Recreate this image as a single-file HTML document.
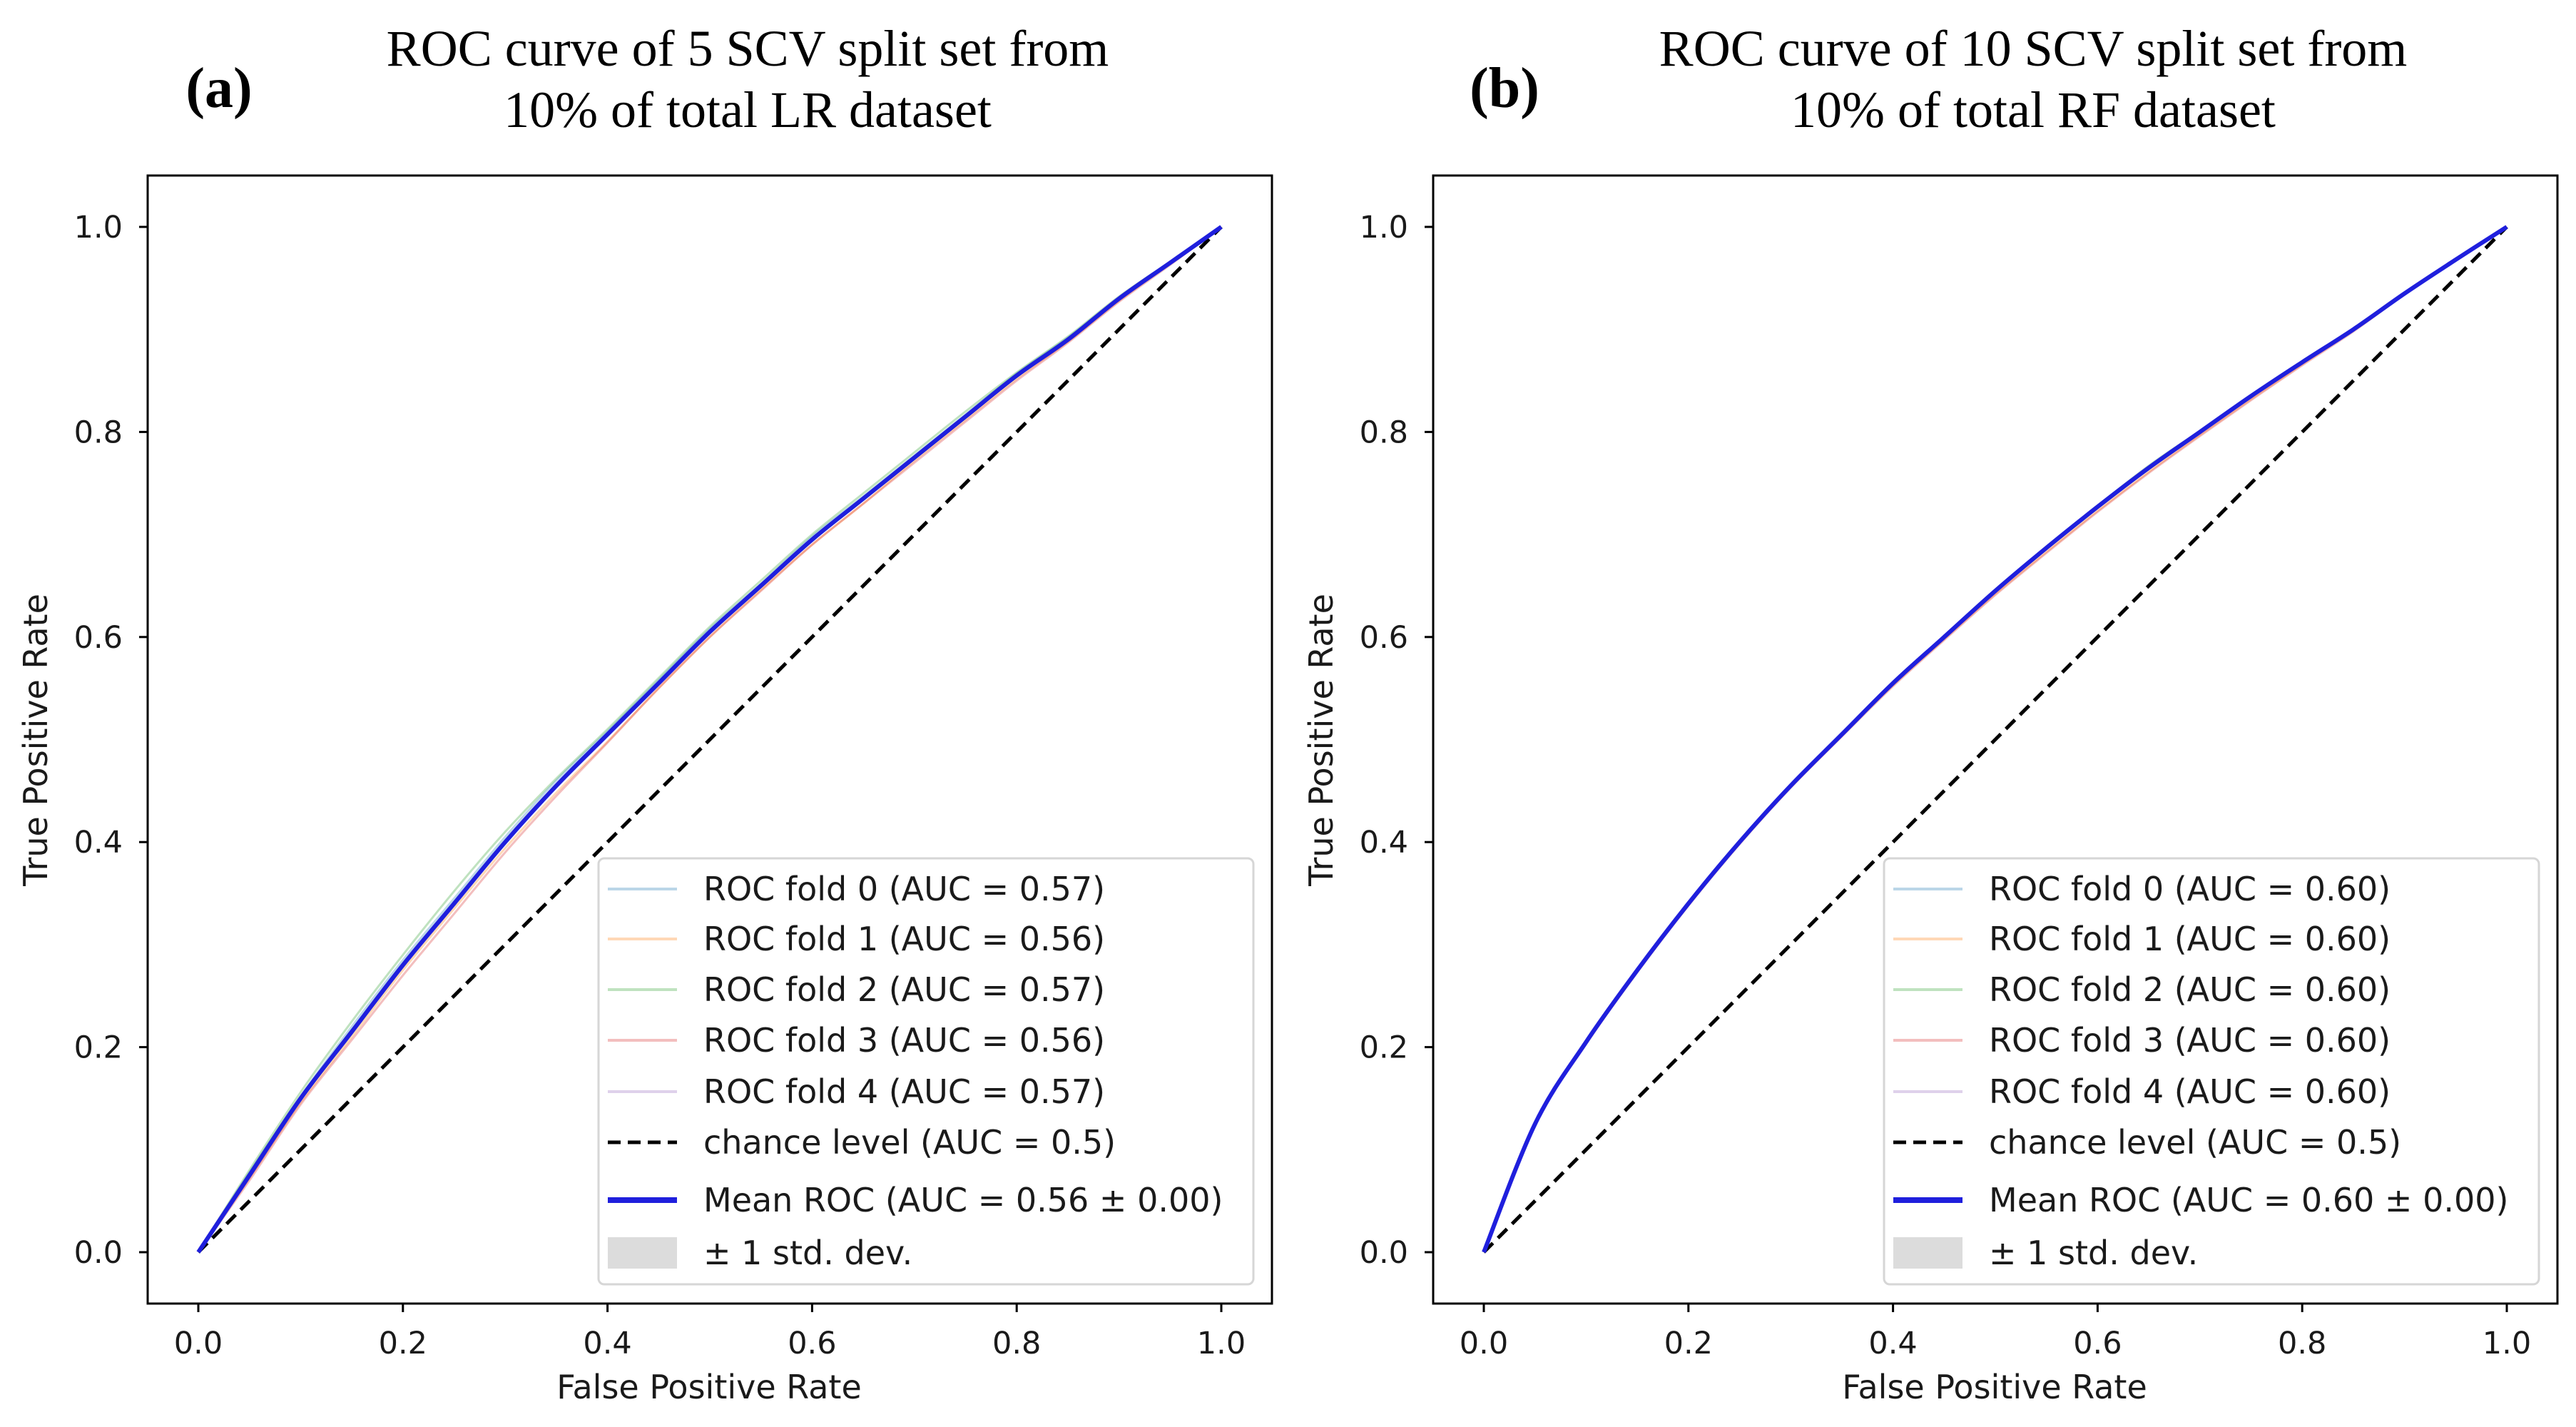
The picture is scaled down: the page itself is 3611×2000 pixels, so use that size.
<!DOCTYPE html>
<html><head><meta charset="utf-8">
<style>
html,body{margin:0;padding:0;background:#fff;}
svg{display:block;}
</style></head>
<body>
<svg id="fig" width="3611" height="2000" viewBox="0 0 3611 2000" xmlns="http://www.w3.org/2000/svg"></svg>
<script>
// ---- data ----
const fprGrid = [0,0.05,0.1,0.15,0.2,0.25,0.3,0.35,0.4,0.45,0.5,0.55,0.6,0.65,0.7,0.75,0.8,0.85,0.9,0.95,1];
const meanA = [0,0.075,0.15,0.215,0.28,0.34,0.40,0.455,0.505,0.555,0.605,0.65,0.695,0.735,0.775,0.815,0.855,0.89,0.93,0.965,1];
const foldA0 = [0,0.078,0.152,0.22,0.285,0.345,0.405,0.46,0.508,0.558,0.608,0.652,0.698,0.737,0.777,0.817,0.857,0.892,0.931,0.966,1];
const foldA1 = [0,0.072,0.146,0.21,0.275,0.335,0.394,0.448,0.498,0.55,0.6,0.646,0.69,0.73,0.772,0.812,0.852,0.888,0.928,0.964,1];
const foldA2 = [0,0.08,0.156,0.225,0.29,0.352,0.41,0.462,0.51,0.56,0.61,0.655,0.7,0.74,0.78,0.82,0.858,0.893,0.932,0.966,1];
const foldA3 = [0,0.07,0.144,0.207,0.27,0.33,0.39,0.445,0.497,0.55,0.6,0.645,0.69,0.73,0.77,0.81,0.85,0.887,0.927,0.963,1];
const foldA4 = [0,0.076,0.15,0.216,0.281,0.341,0.401,0.456,0.506,0.556,0.606,0.651,0.696,0.736,0.776,0.816,0.856,0.891,0.93,0.965,1];
const meanB = [0,0.125,0.205,0.275,0.34,0.40,0.455,0.505,0.555,0.60,0.645,0.687,0.727,0.765,0.80,0.835,0.868,0.90,0.935,0.968,1];
const foldB0 = [0,0.126,0.206,0.276,0.341,0.401,0.456,0.506,0.556,0.601,0.646,0.688,0.728,0.766,0.801,0.836,0.869,0.9,0.935,0.968,1];
const foldB1 = [0,0.124,0.204,0.274,0.339,0.399,0.454,0.504,0.553,0.598,0.642,0.683,0.723,0.761,0.797,0.832,0.866,0.899,0.934,0.967,1];
const foldB2 = [0,0.125,0.205,0.276,0.341,0.401,0.456,0.506,0.556,0.601,0.646,0.688,0.728,0.767,0.801,0.836,0.869,0.9,0.935,0.968,1];
const foldB3 = [0,0.124,0.203,0.273,0.338,0.398,0.453,0.503,0.552,0.597,0.641,0.682,0.722,0.76,0.796,0.831,0.865,0.898,0.934,0.967,1];
const foldB4 = [0,0.125,0.205,0.275,0.34,0.4,0.455,0.505,0.555,0.6,0.645,0.687,0.727,0.765,0.8,0.835,0.868,0.9,0.935,0.968,1];
const chanceX = [0,1];
const chanceY = [0,1];
const tickValues = [0,0.2,0.4,0.6,0.8,1.0];
const tickLabels = ["0.0","0.2","0.4","0.6","0.8","1.0"];
const aucA = ["0.57","0.56","0.57","0.56","0.57"];
const aucB = ["0.60","0.60","0.60","0.60","0.60"];
const meanAucA = "0.56 ± 0.00";
const meanAucB = "0.60 ± 0.00";
const foldColors = ["#1f77b4","#ff7f0e","#2ca02c","#d62728","#9467bd"];

const NS = "http://www.w3.org/2000/svg";
const svg = document.getElementById('fig');
function mk(tag, attrs, parent){
  const e = document.createElementNS(NS, tag);
  for (const k in attrs) e.setAttribute(k, attrs[k]);
  (parent||svg).appendChild(e);
  return e;
}
function smoothPath(pts){
  let d = 'M' + pts[0][0].toFixed(1) + ',' + pts[0][1].toFixed(1);
  for (let i = 0; i < pts.length-1; i++){
    const p0 = pts[Math.max(0,i-1)], p1 = pts[i], p2 = pts[i+1], p3 = pts[Math.min(pts.length-1,i+2)];
    const c1x = p1[0] + (p2[0]-p0[0])/6, c1y = p1[1] + (p2[1]-p0[1])/6;
    const c2x = p2[0] - (p3[0]-p1[0])/6, c2y = p2[1] - (p3[1]-p1[1])/6;
    d += ' C' + c1x.toFixed(1) + ',' + c1y.toFixed(1) + ' ' + c2x.toFixed(1) + ',' + c2y.toFixed(1) + ' ' + p2[0].toFixed(1) + ',' + p2[1].toFixed(1);
  }
  return d;
}

function panel(off, letter, t1, t2, folds, mean, aucs, meanAuc){
  const g = mk('g', {});
  
  
  const x0 = 278 + off, x1 = 1712 + off, y0 = 1755, y1 = 318;
  const sx = v => x0 + v*(x1-x0);
  const sy = v => y0 - v*(y0-y1);
  const axL = 207 + off, axR = 1783 + off, axT = 246, axB = 1827;

  let t = mk('text', {x: 307+off, y: 150, 'font-family':'Liberation Serif, serif', 'font-weight':'bold', 'font-size':80, 'text-anchor':'middle', fill:'#000'}, g);
  t.textContent = '(' + letter + ')';
  
  
  t = mk('text', {x: 1048+off, y: 92, 'font-family':'Liberation Serif, serif', 'font-size':72, 'text-anchor':'middle', fill:'#000'}, g);
  t.textContent = t1;
  
  
  t = mk('text', {x: 1048+off, y: 178, 'font-family':'Liberation Serif, serif', 'font-size':72, 'text-anchor':'middle', fill:'#000'}, g);
  t.textContent = t2;
  
  

  const fr = mk('rect', {x: axL, y: axT, width: axR-axL, height: axB-axT, fill:'none', stroke:'#000', 'stroke-width':3}, g);
  
  

  tickValues.forEach((v,i)=>{
    const xt = mk('line', {x1: sx(v), x2: sx(v), y1: axB, y2: axB+12, stroke:'#000', 'stroke-width':3}, g);
    
    
    const xl = mk('text', {x: sx(v), y: 1897, 'font-family':'DejaVu Sans, sans-serif', 'font-size':43, 'text-anchor':'middle', fill:'#1a1a1a'}, g);
    xl.textContent = tickLabels[i];
    
    
    const yt = mk('line', {x1: axL-12, x2: axL, y1: sy(v), y2: sy(v), stroke:'#000', 'stroke-width':3}, g);
    
    
    const yl = mk('text', {x: 172+off, y: sy(v)+15, 'font-family':'DejaVu Sans, sans-serif', 'font-size':43, 'text-anchor':'end', fill:'#1a1a1a'}, g);
    yl.textContent = tickLabels[i];
    
    
  });
  t = mk('text', {x: 994+off, y: 1960, 'font-family':'DejaVu Sans, sans-serif', 'font-size':46, 'text-anchor':'middle', fill:'#1a1a1a'}, g);
  t.textContent = 'False Positive Rate';
  
  
  t = mk('text', {x: 0, y: 0, 'font-family':'DejaVu Sans, sans-serif', 'font-size':46, 'text-anchor':'middle', fill:'#1a1a1a', transform:'translate(' + (66+off) + ',1037) rotate(-90)'}, g);
  t.textContent = 'True Positive Rate';
  
  

  const pathOf = ys => smoothPath(fprGrid.map((x,i)=>[sx(x), sy(ys[i])]));
  folds.forEach((f,i)=>{
    const p = mk('path', {d: pathOf(f), fill:'none', stroke: foldColors[i], 'stroke-opacity':0.3, 'stroke-width':3}, g);
    
    
  });
  const ch = mk('line', {x1: sx(chanceX[0]), y1: sy(chanceY[0]), x2: sx(chanceX[1]), y2: sy(chanceY[1]), stroke:'#000', 'stroke-width':5, 'stroke-dasharray':'18,10'}, g);
  
  
  const m = mk('path', {d: pathOf(mean), fill:'none', stroke:'#1f1fdd', 'stroke-width':6, 'stroke-linejoin':'round'}, g);
  
  

  const lg = mk('g', {}, g);
  
  
  mk('rect', {x: 839+off, y: 1203, width: 918, height: 597, rx: 8, fill:'#fff', 'fill-opacity':0.85, stroke:'#d6d6d6', 'stroke-width':3}, lg);
  const rows = [1246,1316,1387,1458,1530,1601,1682,1756];
  const labels = aucs.map((a,i)=>'ROC fold ' + i + ' (AUC = ' + a + ')').concat(['chance level (AUC = 0.5)','Mean ROC (AUC = ' + meanAuc + ')','± 1 std. dev.']);
  labels.forEach((lab,i)=>{
    const y = rows[i];
    if (i < 5) {
      const h = mk('line', {x1: 852+off, x2: 949+off, y1: y, y2: y, stroke: foldColors[i], 'stroke-opacity':0.3, 'stroke-width':4}, lg);
      
      
    } else if (i === 5) {
      mk('line', {x1: 852+off, x2: 949+off, y1: y, y2: y, stroke:'#000', 'stroke-width':5, 'stroke-dasharray':'18,10'}, lg);
    } else if (i === 6) {
      mk('line', {x1: 852+off, x2: 949+off, y1: y, y2: y, stroke:'#1f1fdd', 'stroke-width':8}, lg);
    } else {
      mk('rect', {x: 852+off, y: y-22, width: 97, height: 44, fill:'#dcdcdc'}, lg);
    }
    const tx = mk('text', {x: 986+off, y: y+16, 'font-family':'DejaVu Sans, sans-serif', 'font-size':46, fill:'#1a1a1a'}, lg);
    tx.textContent = lab;
    
    
  });
}

panel(0, 'a', 'ROC curve of 5 SCV split set from', '10% of total LR dataset', [foldA0,foldA1,foldA2,foldA3,foldA4], meanA, aucA, meanAucA);
panel(1802, 'b', 'ROC curve of 10 SCV split set from', '10% of total RF dataset', [foldB0,foldB1,foldB2,foldB3,foldB4], meanB, aucB, meanAucB);
</script>
</body></html>
